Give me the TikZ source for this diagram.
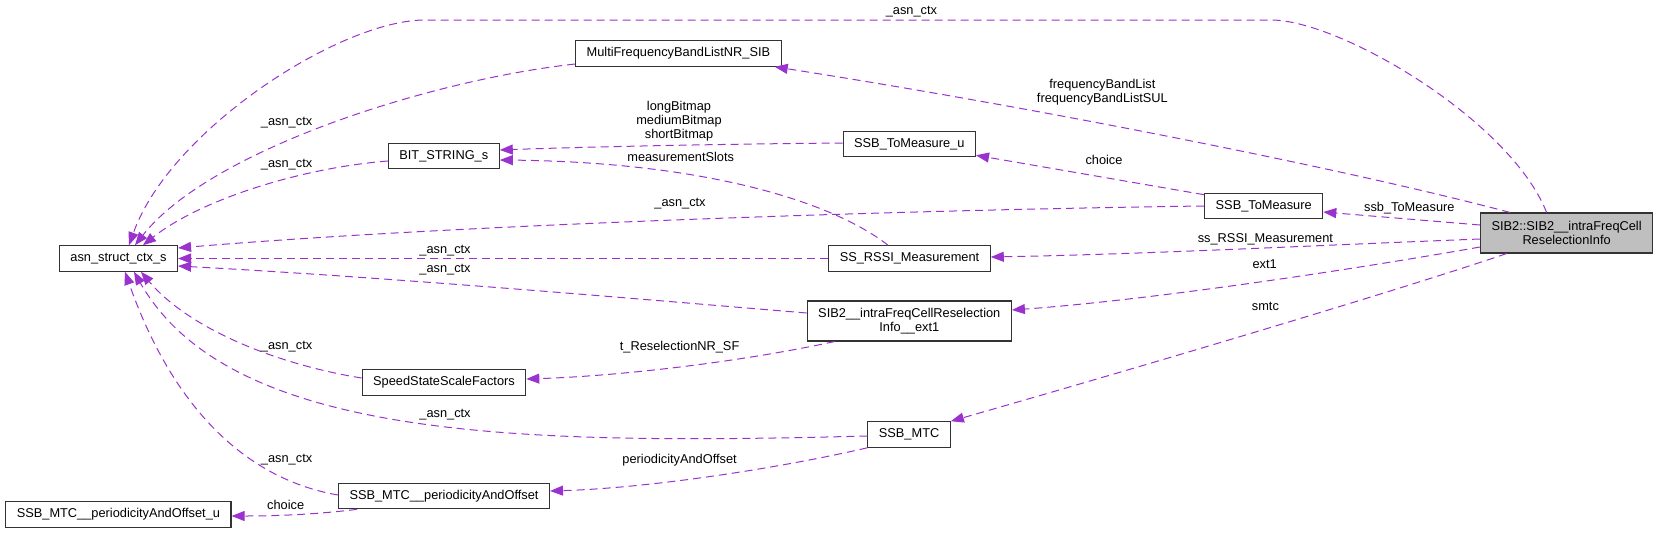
\documentclass[tikz,border=0pt]{standalone}
\usepackage{fontspec}
\setmainfont{Liberation Sans}
\usetikzlibrary{arrows.meta}
\definecolor{usecol}{HTML}{9A32CD}
\definecolor{maingray}{HTML}{BFBFBF}
\tikzset{
    cls/.style={draw=black!80, line width=1.1pt, fill=white, minimum height=25.5pt,
        inner xsep=11pt, inner ysep=2pt, align=center},
    use/.style={draw=usecol, line width=1pt, dash pattern=on 8pt off 5pt,
        -{Triangle[length=13pt,width=10pt]}},
    lbl/.style={inner sep=0pt, align=center}
}
\begin{document}
\begin{tikzpicture}[x=1pt, y=-1pt, font=\fontsize{12.8}{14}\selectfont]
    \useasboundingbox (0,0) rectangle (1659,533);
    % classes
    \node[cls] (asn) at (118.5,258.5) {asn\_struct\_ctx\_s};
    \node[cls] (bitstr) at (443.8,156) {BIT\_STRING\_s};
    \node[cls] (multi) at (678.4,53.5) {MultiFrequencyBandListNR\_SIB};
    \node[cls] (tomu) at (909.3,144) {SSB\_ToMeasure\_u};
    \node[cls] (rssi) at (909.5,258.5) {SS\_RSSI\_Measurement};
    \node[cls] (tom) at (1263.7,206) {SSB\_ToMeasure};
    \node[cls, fill=maingray, minimum height=40pt] (intra) at (1566.6,233) {SIB2::SIB2\_\_intraFreqCell\\ReselectionInfo};
    \node[cls, minimum height=40pt] (ext) at (909.3,321) {SIB2\_\_intraFreqCellReselection\\Info\_\_ext1};
    \node[cls] (speed) at (444,382.5) {SpeedStateScaleFactors};
    \node[cls] (mtc) at (909.1,434.5) {SSB\_MTC};
    \node[cls] (perio) at (444,496) {SSB\_MTC\_\_periodicityAndOffset};
    \node[cls] (periou) at (118.4,514.5) {SSB\_MTC\_\_periodicityAndOffset\_u};

    % usage edges
    \draw[use] ([xshift=-20pt]intra.north) .. controls (1510,120) and (1340,20) .. (1271,20)
        -- (425,20) .. controls (340,20) and (170,130) .. ([xshift=10.5pt]asn.north);
    \draw[use] ([yshift=-10.5pt]multi.west) .. controls (430,80) and (210,150) .. ([xshift=16.5pt]asn.north);
    \draw[use] ([yshift=-5pt]bitstr.west) .. controls (300,168) and (200,200) .. ([xshift=24.5pt]asn.north);
    \draw[use] (tom.west) .. controls (900,210) and (450,225) .. ([yshift=10.5pt]asn.east);
    \draw[use] (rssi.west) -- (asn.east);
    \draw[use] ([yshift=8pt]ext.west) .. controls (650,300) and (400,278) .. ([yshift=-7.5pt]asn.east);
    \draw[use] ([yshift=4.5pt]speed.west) .. controls (280,365) and (190,330) .. ([xshift=22.5pt]asn.south);
    \draw[use] ([yshift=-1.5pt]mtc.west) .. controls (520,445) and (230,440) .. ([xshift=15.5pt]asn.south);
    \draw[use] ([yshift=1pt]perio.west) .. controls (240,478) and (170,400) .. ([xshift=6.5pt]asn.south);
    \draw[use] ([yshift=1pt]tomu.west) .. controls (720,144) and (580,147) .. ([yshift=6pt]bitstr.east);
    \draw[use] ([xshift=-21.5pt]rssi.north) .. controls (830,200) and (700,162) .. ([yshift=-4pt]bitstr.east);
    \draw[use] ([xshift=-56.6pt]intra.north) .. controls (1350,170) and (1050,110) .. ([xshift=-7pt]multi.south east);
    \draw[use] ([yshift=-2pt]tom.north west) -- ([yshift=2pt]tomu.south east);
    \draw[use] ([yshift=8pt]intra.west) -- ([yshift=-6pt]tom.east);
    \draw[use] ([yshift=-6pt]intra.west) .. controls (1300,246) and (1150,254) .. ([yshift=1.5pt]rssi.east);
    \draw[use] ([yshift=-14pt]intra.west) .. controls (1350,270) and (1150,300) .. ([yshift=11pt]ext.east);
    \draw[use] ([xshift=-60pt]intra.south) .. controls (1400,290) and (1130,370) .. (mtc.north east);
    \draw[use] ([xshift=-74.7pt]ext.south) .. controls (740,362) and (620,376) .. ([yshift=3.5pt]speed.east);
    \draw[use] (mtc.south west) .. controls (780,468) and (650,488) .. ([yshift=5pt]perio.east);
    \draw[use] ([xshift=-87pt]perio.south) .. controls (320,514) and (280,516) .. ([yshift=-1.5pt]periou.east);

    % edge labels
    \node[lbl] (ltop) at (911.4,12) {\_asn\_ctx};
    \node[lbl] (lmulti) at (286.6,123) {\_asn\_ctx};
    \node[lbl] (lbit) at (286.6,165) {\_asn\_ctx};
    \node[lbl] (ltom) at (680,204) {\_asn\_ctx};
    \node[lbl] (lrssi) at (445,251) {\_asn\_ctx};
    \node[lbl] (lext) at (445,270) {\_asn\_ctx};
    \node[lbl] (lspeed) at (286.6,347) {\_asn\_ctx};
    \node[lbl] (lmtc) at (445,415) {\_asn\_ctx};
    \node[lbl] (lperio) at (286.6,460) {\_asn\_ctx};
    \node[lbl] (lbitmap) at (679,121) {longBitmap\\mediumBitmap\\shortBitmap};
    \node[lbl] (lslots) at (680.7,157) {measurementSlots};
    \node[lbl] (lband) at (1102.4,92) {frequencyBandList\\frequencyBandListSUL};
    \node[lbl] (lchoice) at (1104,160) {choice};
    \node[lbl] (lssb) at (1409.3,208) {ssb\_ToMeasure};
    \node[lbl] (lss) at (1265.4,239) {ss\_RSSI\_Measurement};
    \node[lbl] (lext1) at (1264.7,264) {ext1};
    \node[lbl] (lsmtc) at (1265.4,306) {smtc};
    \node[lbl] (lresel) at (679.6,347) {t\_ReselectionNR\_SF};
    \node[lbl] (lperiod) at (679.6,460) {periodicityAndOffset};
    \node[lbl] (lchoice2) at (285.7,505) {choice};
\end{tikzpicture}
\end{document}
